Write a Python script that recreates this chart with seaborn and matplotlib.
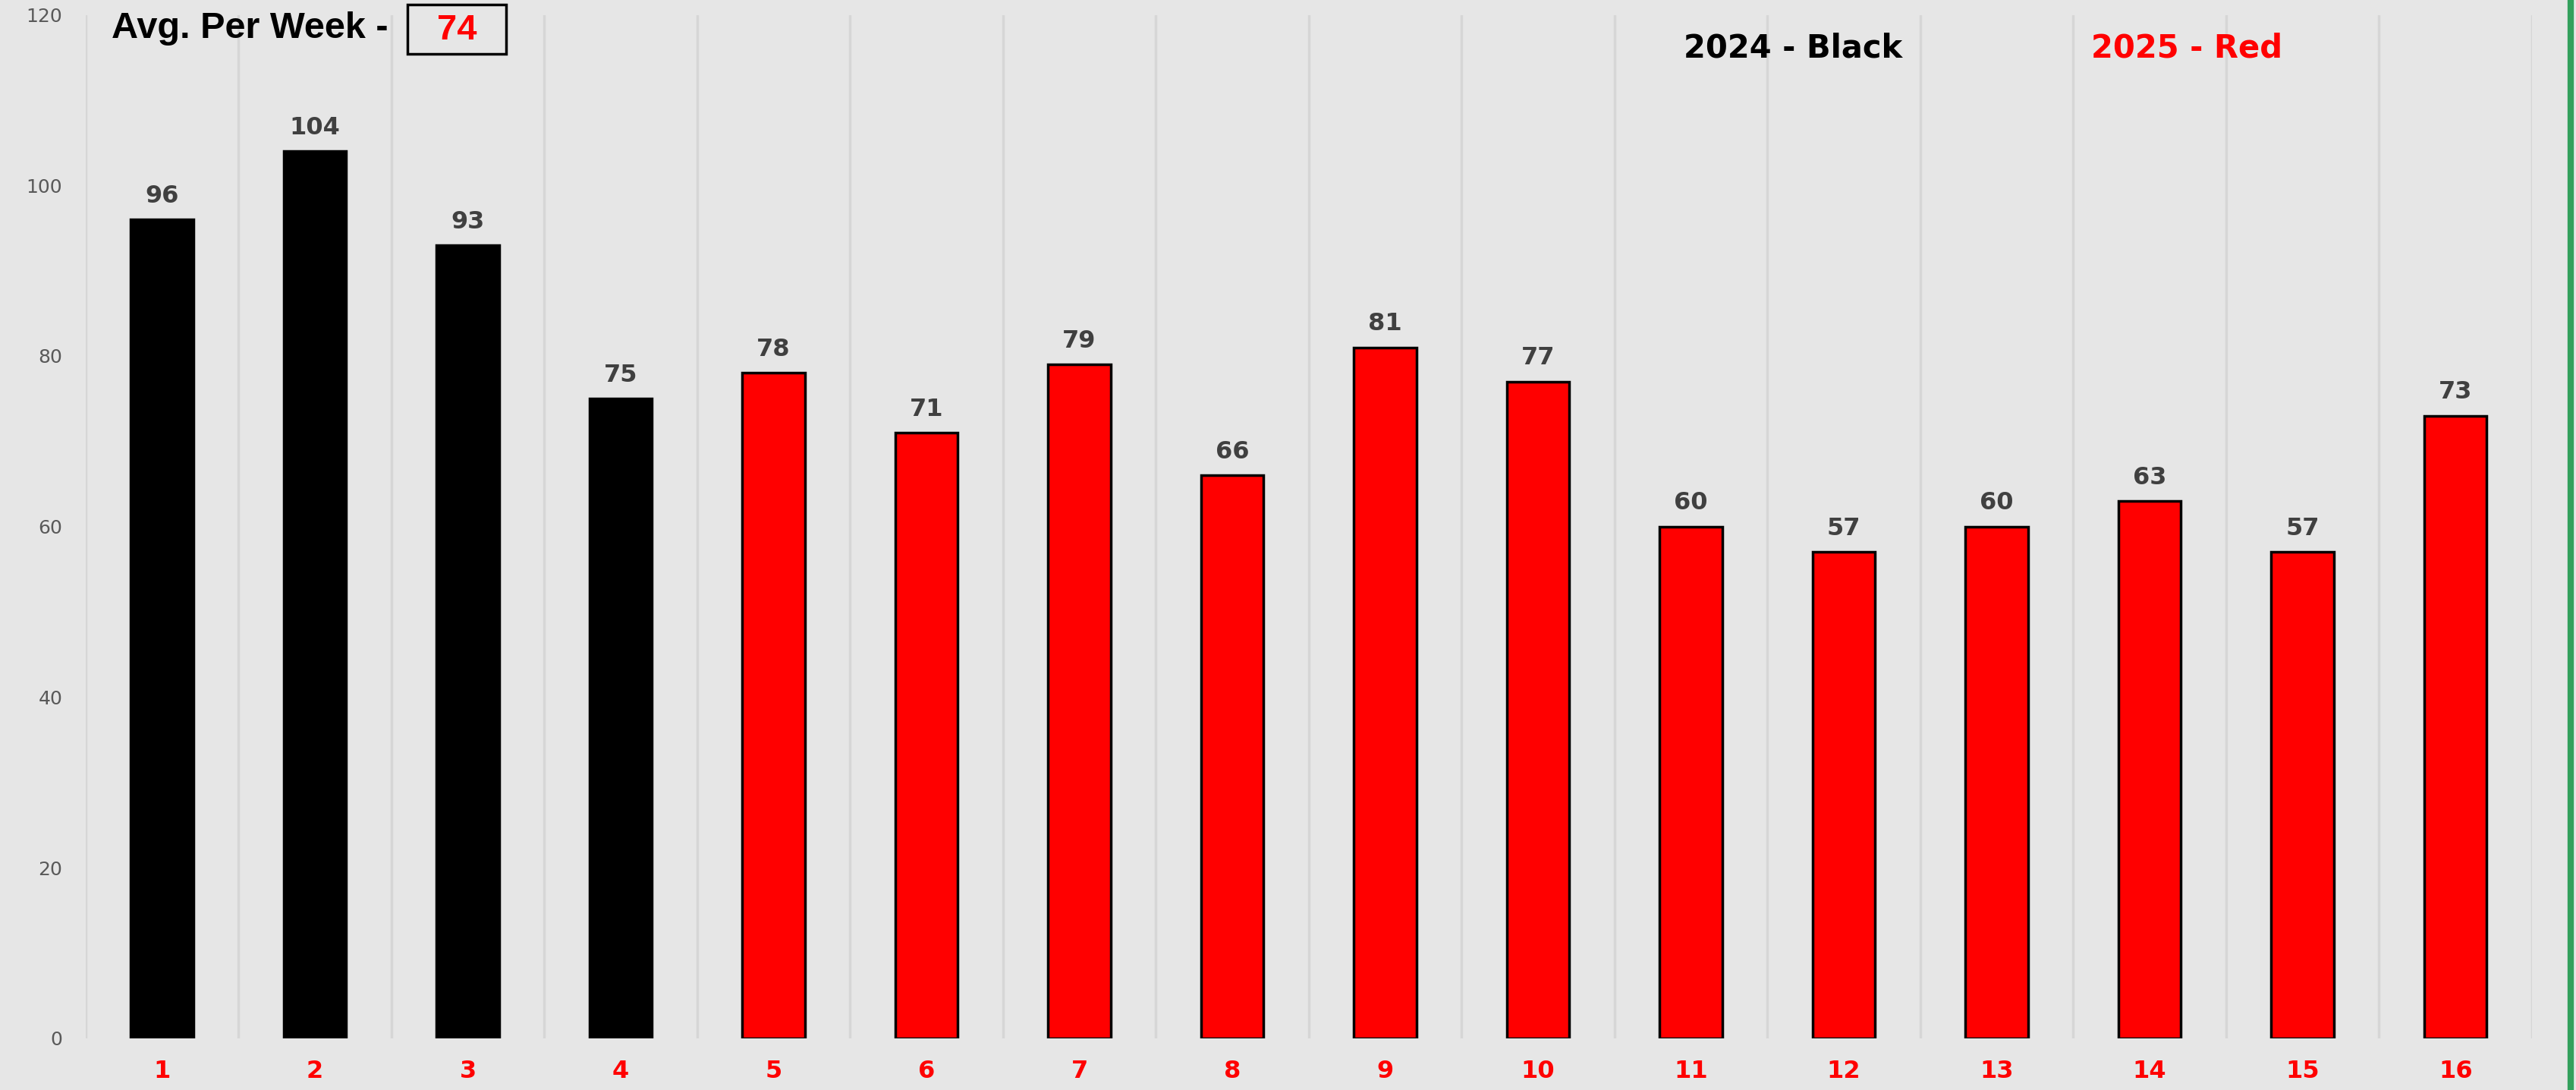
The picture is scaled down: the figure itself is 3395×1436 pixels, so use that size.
import numpy as np
import pandas as pd
import matplotlib
matplotlib.use("Agg")
import matplotlib.pyplot as plt
import seaborn as sns
from matplotlib.patches import Rectangle
from matplotlib.lines import Line2D

weeks = [str(i) for i in range(1, 17)]
counts = [96, 104, 93, 75, 78, 71, 79, 66, 81, 77, 60, 57, 60, 63, 57, 73]
years = ["2024"] * 4 + ["2025"] * 12
avg_per_week = 74

df = pd.DataFrame({"week": weeks, "count": counts, "year": years})

bg = "#E6E6E6"
sns.set_theme(style="white")
plt.rcParams["font.family"] = ["DejaVu Sans"]

fig = plt.figure(figsize=(33.95, 14.36), dpi=100, facecolor=bg)
ax = fig.add_axes([0.0332, 0.0474, 0.9497, 0.939])
ax.set_facecolor(bg)

sns.barplot(data=df, x="week", y="count", hue="year",
            palette={"2024": "#000000", "2025": "#FF0000"}, saturation=1,
            width=0.41, dodge=False, edgecolor="black", linewidth=2.5,
            legend=False, ax=ax)

for container in ax.containers:
    ax.bar_label(container, padding=11, fontsize=23, fontweight="bold", color="#404040")

ax.set_xlim(-0.5, 15.5)
ax.set_ylim(0, 120)
ax.set_yticks(range(0, 121, 20))
ax.set_xticks(np.arange(-0.5, 16, 1), minor=True)
ax.grid(False)
ax.grid(True, which="minor", axis="x", color="#D6D6D6", linewidth=2.5)
ax.tick_params(axis="x", which="both", length=0)
ax.tick_params(axis="x", pad=20, labelsize=23, labelcolor="#FF0000")
ax.tick_params(axis="y", length=0, pad=22, labelsize=18, labelcolor="#595959")
for lbl in ax.get_xticklabels():
    lbl.set_fontweight("bold")
ax.set_xlabel("")
ax.set_ylabel("")
for s in ax.spines.values():
    s.set_visible(False)

# header texts
fig.text(147 / 3395, 1 - 37 / 1436, "Avg. Per Week -", ha="left", va="center",
         fontsize=35, fontweight="bold", color="black",
         family=["Liberation Sans Narrow", "Liberation Sans", "DejaVu Sans"])
fig.patches.append(Rectangle((537 / 3395, 1 - 71 / 1436), 130 / 3395, 65 / 1436,
                             transform=fig.transFigure, facecolor=bg,
                             edgecolor="black", linewidth=2.5))
fig.text(602 / 3395, 1 - 40 / 1436, str(avg_per_week), ha="center", va="center",
         fontsize=34, fontweight="bold", color="#FF0000",
         family=["Liberation Sans Narrow", "Liberation Sans", "DejaVu Sans"])
fig.text(2363 / 3395, 1 - 63 / 1436, "2024 - Black", ha="center", va="center",
         fontsize=30, fontweight="bold", color="black")
fig.text(2882 / 3395, 1 - 63 / 1436, "2025 - Red", ha="center", va="center",
         fontsize=30, fontweight="bold", color="#FF0000")

# green edge on the right
fig.lines.append(Line2D([3388 / 3395, 3388 / 3395], [0, 1], transform=fig.transFigure,
                        color="#33A05C", linewidth=6))

fig.savefig("out.png", dpi=100, facecolor=bg)
